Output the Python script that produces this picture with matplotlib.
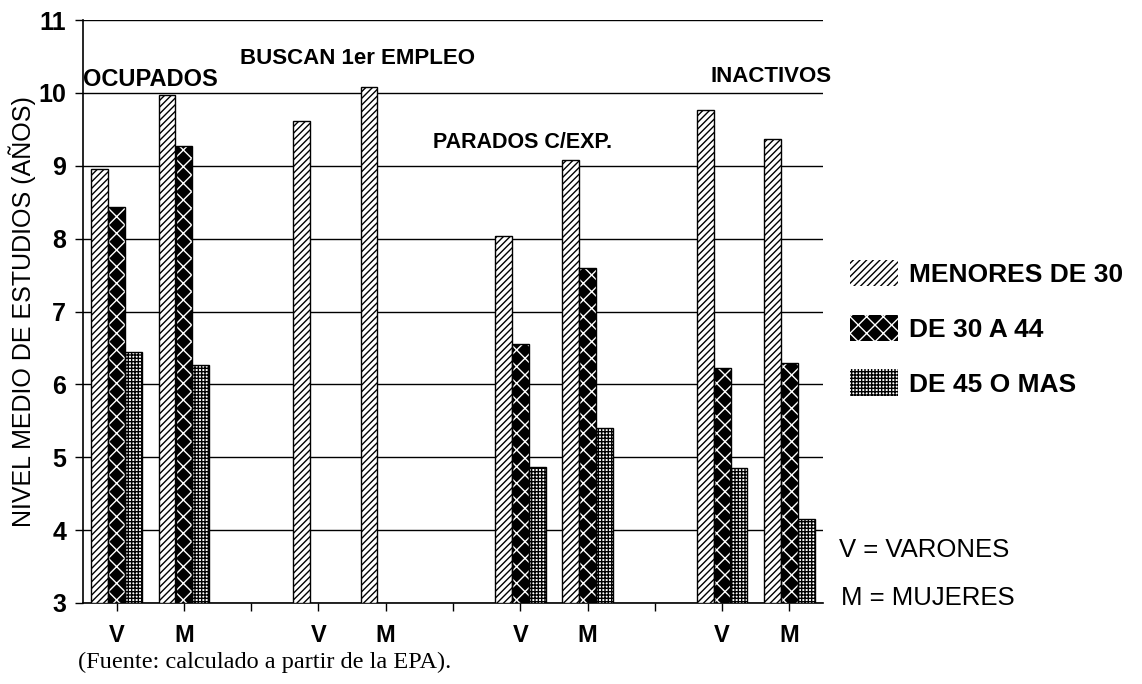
import matplotlib
matplotlib.use("Agg")
import matplotlib.pyplot as plt
from matplotlib.patches import Patch
import numpy as np

plt.rcParams['font.family'] = ['Liberation Sans', 'DejaVu Sans']
plt.rcParams['hatch.linewidth'] = 1.0

# ---- data ----
groups = ["OCUPADOS", "BUSCAN 1er EMPLEO", "PARADOS C/EXP.", "INACTIVOS"]
sexes = ["V", "M"]
series_names = ["MENORES DE 30", "DE 30 A 44", "DE 45 O MAS"]
# values per group, [V, M]
menores = [[8.95, 9.97], [9.62, 10.08], [8.03, 9.08], [9.76, 9.37]]
de30a44 = [[8.43, 9.27], [None, None], [6.55, 7.60], [6.22, 6.30]]
de45 = [[6.45, 6.27], [None, None], [4.87, 5.40], [4.85, 4.15]]
yticks = [3, 4, 5, 6, 7, 8, 9, 10, 11]
source = "(Fuente: calculado a partir de la EPA)."

W, H = 1142, 684
fig = plt.figure(figsize=(W / 100, H / 100), dpi=100)
ax = fig.add_axes([83 / W, 1 - 603 / H, (823 - 83) / W, (603 - 20) / H])

ymin = 3
bw = 0.25
styles = [
    dict(face="white", hatch="/////", hcol="black"),
    dict(face="black", hatch="xx", hcol="white"),
    dict(face="white", hatch="+++++", hcol="black"),
]
all_series = [menores, de30a44, de45]

for si, (series, st) in enumerate(zip(all_series, styles)):
    xs, hs = [], []
    for g in range(len(groups)):
        for s in range(len(sexes)):
            v = series[g][s]
            if v is None:
                continue
            xs.append(3 * g + s + (si - 1) * bw)
            hs.append(v - ymin)
    ax.bar(xs, hs, bottom=ymin, width=bw, color=st["face"], edgecolor=st["hcol"],
           hatch=st["hatch"], linewidth=0, zorder=3)
    ax.bar(xs, hs, bottom=ymin, width=bw, fill=False, edgecolor="black",
           linewidth=1.0, zorder=4)

ax.set_xlim(-0.5, 10.5)
ax.set_ylim(3, 11)
ax.set_yticks(yticks)
ax.set_yticklabels([str(t) for t in yticks], fontsize=18, fontweight="bold")
ax.set_xticks(range(11))
xlabels = []
for k in range(11):
    if k % 3 < 2:
        xlabels.append(sexes[k % 3])
    else:
        xlabels.append("")
ax.set_xticklabels(xlabels, fontsize=17, fontweight="bold")
ax.tick_params(axis="x", length=6, width=1, pad=9)
ax.tick_params(axis="y", length=6, width=1, pad=6)
ax.grid(axis="y", color="black", linewidth=1.0, zorder=0)
for sp in ["top", "right"]:
    ax.spines[sp].set_visible(False)
ax.spines["left"].set_linewidth(1.2)
ax.spines["bottom"].set_linewidth(1.2)
ax.set_ylabel("NIVEL MEDIO DE ESTUDIOS (AÑOS)", fontsize=18, labelpad=2)

def figtext(x, y, s, **kw):
    fig.text(x / W, 1 - y / H, s, **kw)

# group labels
figtext(150, 79, groups[0], fontsize=17, fontweight="bold", ha="center", va="center")
figtext(357, 58, groups[1], fontsize=16, fontweight="bold", ha="center", va="center")
figtext(523, 142, groups[2], fontsize=15.5, fontweight="bold", ha="center", va="center")
figtext(832, 77, groups[3], fontsize=16, fontweight="bold", ha="right", va="center")

# legend
handles = [Patch(facecolor=st["face"], edgecolor=st["hcol"], hatch=st["hatch"], linewidth=0)
           for st in styles]
leg = fig.legend(handles, series_names, loc="upper left",
                 bbox_to_anchor=(850 / W, 1 - 260 / H), frameon=False,
                 fontsize=19, handlelength=1.8, handleheight=1.15,
                 labelspacing=1.05, handletextpad=0.45, borderpad=0, borderaxespad=0)
for t in leg.get_texts():
    t.set_fontweight("bold")

figtext(924, 550, "V = VARONES", fontsize=18.5, ha="center", va="center")
figtext(928, 598, "M = MUJERES", fontsize=18.5, ha="center", va="center")

fig.text(78 / W, 1 - 662 / H, source, fontsize=17.5, family="Liberation Serif",
         ha="left", va="center")

fig.savefig("out.png", dpi=100)
